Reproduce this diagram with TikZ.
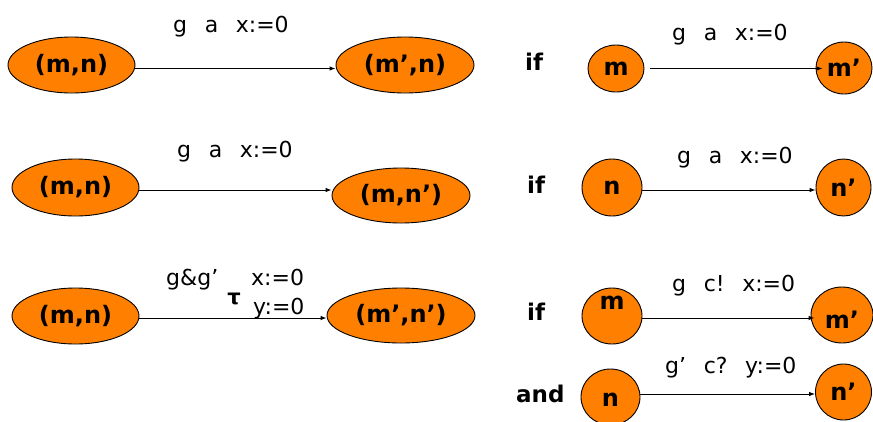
\documentclass[tikz,border=0pt]{standalone}
\usepackage{fontspec}
\setmainfont{DejaVu Sans}
\usepackage{tikz}
\usetikzlibrary{shapes,arrows.meta,calc,positioning}
\definecolor{locorange}{RGB}{255,128,0}
\newcommand{\lblgap}{\hspace{0.8em}}

\begin{document}
\begin{tikzpicture}[x=1pt,y=-1pt,
    loc/.style={ellipse, fill=locorange, draw=black, line width=0.9pt, inner sep=0pt,
      font=\fontsize{24}{24}\selectfont\bfseries},
    lbl/.style={inner sep=0pt, font=\fontsize{24}{24}\selectfont\bfseries},
    trans/.style={-{Latex[length=6pt,width=4.5pt]}, line width=0.9pt},
    guard/.style={anchor=base west, inner sep=0pt, font=\fontsize{22}{22}\selectfont},
    cond/.style={anchor=base west, inner sep=0pt, font=\fontsize{23}{23}\selectfont\bfseries}]
      \useasboundingbox (0,0) rectangle (873,421);
      % Product locations
      \node[loc, minimum width=127pt, minimum height=56pt] (mn1) at (71.5,65) {(m,n)};
      \node[loc, minimum width=138pt, minimum height=56pt] (mpn1) at (405,65) {(m’,n)};
      \node[loc, minimum width=127pt, minimum height=57pt] (mn2) at (75.5,187.5) {(m,n)};
      \node[loc, minimum width=138pt, minimum height=55pt] (mnp2) at (401,195.5) {(m,n’)};
      \node[loc, minimum width=127pt, minimum height=56pt] (mn3) at (75.5,316) {(m,n)};
      \node[loc, minimum width=148pt, minimum height=55pt] (mpnp3) at (401,315.5) {(m’,n’)};
      % Product edges
      \draw[trans] ([yshift=-3.5pt]mn1.east) -- ([yshift=-3.5pt]mpn1.west);
      \draw[trans] ([yshift=-2.5pt]mn2.east) -- ([yshift=-2.5pt]mn2.east -| mnp2.west);
      \draw[trans] ([yshift=-2pt]mn3.east) -- ([yshift=-2pt]mn3.east -| mpnp3.west);
      \node[guard] (g1) at (173,32) {g\lblgap a\lblgap x:=0};
      \node[guard] (g2) at (177,157) {g\lblgap a\lblgap x:=0};
      \node[guard] (g3) at (166,285) {g\&g’};
      \node[lbl, font=\fontsize{21}{21}\selectfont\bfseries] (tau) at (234,299) {τ};
      \node[guard] (r3x) at (251,285) {x:=0};
      \node[guard] (r3y) at (253,314) {y:=0};
      % Component locations
      \node[cond] (if1) at (525,70) {if};
      \node[cond] (if2) at (527,193) {if};
      \node[cond] (if3) at (527,320) {if};
      \node[cond] (and4) at (516,402) {and};
      \node[loc, minimum width=56pt, minimum height=47pt] (m1) at (616,68.5) {m};
      \node[loc, minimum width=56pt, minimum height=52pt] (mp1) at (844,68) {m’};
      \node[loc, minimum width=60pt, minimum height=57pt] (n2) at (612,187.5) {n};
      \node[loc, minimum width=55pt, minimum height=57pt] (np2) at (843.5,187.5) {n’};
      \node[loc, minimum width=60pt, minimum height=56pt,
        label={[lbl,yshift=13pt]center:m}] (m3) at (612,316) {};
      \node[loc, minimum width=62pt, minimum height=56pt,
        label={[lbl,yshift=-5pt]center:m’}] (mp3) at (842,315) {};
      \node[loc, minimum width=59pt, minimum height=56pt,
        label={[lbl,yshift=-3pt]center:n}] (n4) at (610.5,397) {};
      \node[loc, minimum width=56pt, minimum height=56pt] (np4) at (843.5,392) {n’};
      % Component edges
      \draw[trans, shorten <=6pt, shorten >=-7pt] (m1.east) -- (m1.east -| mp1.west);
      \draw[trans] ([yshift=-2.5pt]n2.east) -- ([yshift=-2.5pt]n2.east -| np2.west);
      \draw[trans, shorten >=-4pt] ([yshift=-2pt]m3.east) -- ([yshift=-2pt]m3.east -| mp3.west);
      \draw[trans] ([yshift=3pt]n4.east) -- ([yshift=3pt]n4.east -| np4.west);
      \node[guard] (g1r) at (672,40) {g\lblgap a\lblgap x:=0};
      \node[guard] (g2r) at (677,163) {g\lblgap a\lblgap x:=0};
      \node[guard] (g3r) at (672,291) {g\lblgap c!\lblgap x:=0};
      \node[guard] (g4r) at (665,373) {g’\lblgap c?\lblgap y:=0};
\end{tikzpicture}
\end{document}
